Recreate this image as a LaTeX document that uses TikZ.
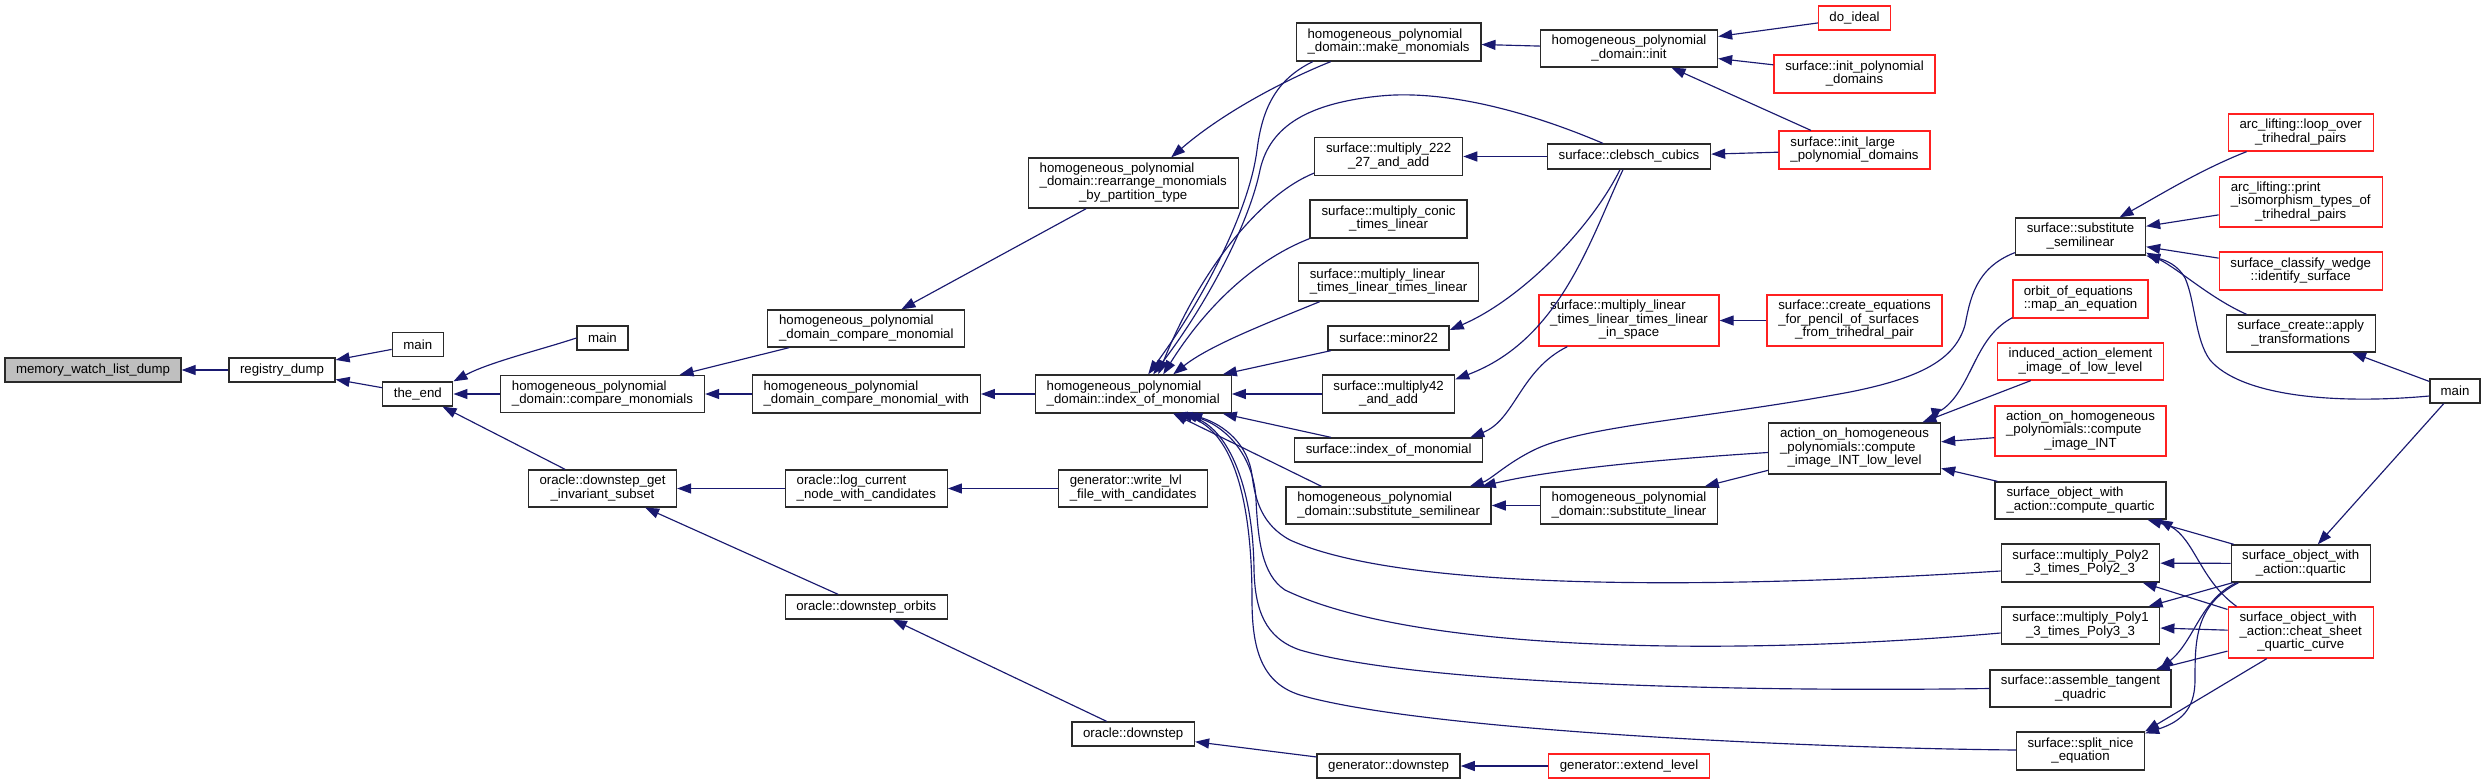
\documentclass[tikz,border=0pt]{standalone}
\usepackage{fontspec}
\setmainfont{Liberation Sans}
\usetikzlibrary{arrows.meta,calc}
\definecolor{edgec}{HTML}{191970}
\definecolor{nodeb}{HTML}{2A2A2A}
\definecolor{redb}{HTML}{FF2020}
\definecolor{grayfill}{HTML}{BFBFBF}
\newcommand{\ml}[2]{\begin{tabular}{@{}l@{}}#1\\\multicolumn{1}{@{}c@{}}{#2}\end{tabular}}
\begin{document}
\begin{tikzpicture}[x=1pt,y=-1pt,
  box/.style={draw=nodeb, line width=1.3pt, fill=white, inner sep=0pt, font=\fontsize{13.25pt}{13.3pt}\selectfont},
  rbox/.style={box, draw=redb},
  sz/.style 2 args={minimum width=#1, minimum height=#2},
  e/.style={draw=edgec, line width=1.15pt, -{Triangle[length=14pt,width=10pt]}}]
\useasboundingbox[fill=white] (0,0) rectangle (2486,784);
% rank 0-3
\node[box,sz={176pt}{24pt},fill=grayfill] (mwld) at (93,370) {memory\_watch\_list\_dump};
\node[box,sz={106pt}{24pt}] (regdump) at (282,370) {registry\_dump};
\node[box,sz={51pt}{24pt}] (mainA) at (417.8,344.5) {main};
\node[box,sz={70pt}{24pt}] (theend) at (417.8,394) {the\_end};
\node[box,sz={51pt}{24pt}] (mainB) at (602.5,338) {main};
\node[box,sz={204pt}{37pt}] (cmpmons) at (602.5,394) {\ml{homogeneous\_polynomial}{\_domain::compare\_monomials}};
\node[box,sz={148pt}{37pt}] (dgis) at (602.5,488.5) {\ml{oracle::downstep\_get}{\_invariant\_subset}};
% rank 4
\node[box,sz={197pt}{37pt}] (cmpmon) at (866.3,328.5) {\ml{homogeneous\_polynomial}{\_domain\_compare\_monomial}};
\node[box,sz={228pt}{38pt}] (cmpwith) at (866.3,394) {\ml{homogeneous\_polynomial}{\_domain\_compare\_monomial\_with}};
\node[box,sz={162pt}{37pt}] (logcur) at (866.3,488.5) {\ml{oracle::log\_current}{\_node\_with\_candidates}};
\node[box,sz={162pt}{24pt}] (dsorbits) at (866.3,607) {oracle::downstep\_orbits};
% rank 5
\node[box,sz={210pt}{50pt}] (rearr) at (1133.2,183) {\ml{homogeneous\_polynomial\\\_domain::rearrange\_monomials}{\_by\_partition\_type}};
\node[box,sz={196pt}{38pt}] (idxmon) at (1133.2,394) {\ml{homogeneous\_polynomial}{\_domain::index\_of\_monomial}};
\node[box,sz={149pt}{37pt}] (writelvl) at (1133.2,488.5) {\ml{generator::write\_lvl}{\_file\_with\_candidates}};
\node[box,sz={122.5pt}{24pt}] (odownstep) at (1133.2,734) {oracle::downstep};
% rank 6
\node[box,sz={184.5pt}{38pt}] (makemon) at (1388.6,42) {\ml{homogeneous\_polynomial}{\_domain::make\_monomials}};
\node[box,sz={148pt}{38pt}] (m222) at (1388.6,156.5) {\ml{surface::multiply\_222}{\_27\_and\_add}};
\node[box,sz={157pt}{38pt}] (conic) at (1388.6,219) {\ml{surface::multiply\_conic}{\_times\_linear}};
\node[box,sz={180.4pt}{38pt}] (lin3) at (1388.6,282) {\ml{surface::multiply\_linear}{\_times\_linear\_times\_linear}};
\node[box,sz={121pt}{24pt}] (minor22) at (1388.6,338) {surface::minor22};
\node[box,sz={132pt}{38pt}] (m42) at (1388.6,394) {\ml{surface::multiply42}{\_and\_add}};
\node[box,sz={188pt}{24pt}] (sidx) at (1388.6,450) {surface::index\_of\_monomial};
\node[box,sz={205pt}{37pt}] (subsemi) at (1388.6,505.5) {\ml{homogeneous\_polynomial}{\_domain::substitute\_semilinear}};
\node[box,sz={143pt}{24pt}] (gdownstep) at (1388.6,766) {generator::downstep};
% rank 7
\node[box,sz={177pt}{37pt}] (hpdinit) at (1629,48.5) {\ml{homogeneous\_polynomial}{\_domain::init}};
\node[box,sz={163pt}{25pt}] (clebsch) at (1629,156.5) {surface::clebsch\_cubics};
\node[rbox,sz={180pt}{51pt}] (inspace) at (1629,320.5) {\ml{surface::multiply\_linear\\\_times\_linear\_times\_linear}{\_in\_space}};
\node[box,sz={177pt}{37pt}] (sublinear) at (1629,505.5) {\ml{homogeneous\_polynomial}{\_domain::substitute\_linear}};
\node[rbox,sz={161pt}{24pt}] (extend) at (1629,766) {generator::extend\_level};
% rank 8
\node[rbox,sz={72pt}{24pt}] (doideal) at (1854.5,18) {do\_ideal};
\node[rbox,sz={161pt}{38pt}] (initpoly) at (1854.5,74) {\ml{surface::init\_polynomial}{\_domains}};
\node[rbox,sz={151pt}{38pt}] (initlarge) at (1854.5,150) {\ml{surface::init\_large}{\_polynomial\_domains}};
\node[rbox,sz={175pt}{51pt}] (create) at (1854.5,320.5) {\ml{surface::create\_equations\\\_for\_pencil\_of\_surfaces}{\_from\_trihedral\_pair}};
\node[box,sz={172pt}{51pt}] (lowlevel) at (1854.5,448.5) {\ml{action\_on\_homogeneous\\\_polynomials::compute}{\_image\_INT\_low\_level}};
% rank 9
\node[box,sz={130pt}{37pt}] (ssubsemi) at (2080.5,236.5) {\ml{surface::substitute}{\_semilinear}};
\node[rbox,sz={135pt}{38pt}] (orbit) at (2080.5,299) {\ml{orbit\_of\_equations}{::map\_an\_equation}};
\node[rbox,sz={166pt}{37pt}] (induced) at (2080.5,361.5) {\ml{induced\_action\_element}{\_image\_of\_low\_level}};
\node[rbox,sz={171pt}{50pt}] (computeINT) at (2080.5,431) {\ml{action\_on\_homogeneous\\\_polynomials::compute}{\_image\_INT}};
\node[box,sz={171pt}{37pt}] (cquartic) at (2080.5,500.5) {\ml{surface\_object\_with}{\_action::compute\_quartic}};
\node[box,sz={158.5pt}{38pt}] (poly2) at (2080.5,563) {\ml{surface::multiply\_Poly2}{\_3\_times\_Poly2\_3}};
\node[box,sz={158.5pt}{37pt}] (poly1) at (2080.5,625.5) {\ml{surface::multiply\_Poly1}{\_3\_times\_Poly3\_3}};
\node[box,sz={181pt}{37pt}] (assemble) at (2080.5,688.5) {\ml{surface::assemble\_tangent}{\_quadric}};
\node[box,sz={128pt}{38pt}] (split) at (2080.5,751) {\ml{surface::split\_nice}{\_equation}};
% rank 10
\node[rbox,sz={145pt}{37pt}] (loop) at (2300.7,132.5) {\ml{arc\_lifting::loop\_over}{\_trihedral\_pairs}};
\node[rbox,sz={163pt}{50pt}] (print) at (2300.7,202) {\ml{arc\_lifting::print\\\_isomorphism\_types\_of}{\_trihedral\_pairs}};
\node[rbox,sz={163pt}{38pt}] (classify) at (2300.7,271) {\ml{surface\_classify\_wedge}{::identify\_surface}};
\node[box,sz={149pt}{37pt}] (apply) at (2300.7,333.5) {\ml{surface\_create::apply}{\_transformations}};
\node[box,sz={139pt}{37pt}] (quartic) at (2300.7,563.5) {\ml{surface\_object\_with}{\_action::quartic}};
\node[rbox,sz={145pt}{51pt}] (cheat) at (2300.7,632.5) {\ml{surface\_object\_with\\\_action::cheat\_sheet}{\_quartic\_curve}};
% rank 11
\node[box,sz={50pt}{24pt}] (mainC) at (2455,391) {main};

% ---------------- edges ----------------
\draw[e] (regdump) -- (mwld);
\draw[e] (mainA) -- (regdump);
\draw[e] (theend) -- (regdump);
\draw[e] (mainB.west) .. controls (540,350) and (490,362) .. (theend.north east);
\draw[e] (cmpmons) -- (theend);
\draw[e] (dgis) -- (theend);
\draw[e] (cmpmon) -- (cmpmons);
\draw[e] (cmpwith) -- (cmpmons);
\draw[e] (rearr) -- (cmpmon);
\draw[e] ($(makemon.south west)+(35,0)$) .. controls (1280,82) and (1220,115) .. ($(rearr.north)+(38,0)$);
\draw[e] (idxmon) -- (cmpwith);
\draw[e] (logcur) -- (dgis);
\draw[e] (dsorbits) -- (dgis);
\draw[e] (writelvl) -- (logcur);
\draw[e] (odownstep) -- (dsorbits);
\draw[e] (gdownstep) -- (odownstep);
\draw[e] (extend) -- (gdownstep);
\draw[e] (hpdinit) -- (makemon);
\draw[e] (doideal) -- (hpdinit);
\draw[e] (initpoly) -- (hpdinit);
\draw[e] (initlarge) -- (hpdinit);
\draw[e] (initlarge) -- (clebsch);
\draw[e] (clebsch) -- (m222);
\draw[e] ($(clebsch.south)+(-9,0)$) .. controls (1590,230) and (1520,300) .. ($(minor22.east)+(0,-8)$);
\draw[e] ($(clebsch.south)+(-6,0)$) .. controls (1590,240) and (1560,340) .. ($(m42.north east)+(0,5)$);
% into index_of_monomial (top)
\draw[e] ($(makemon.south west)+(17,0)$) .. controls (1275,80) and (1262,110) .. (1257,150) .. controls (1250,205) and (1210,290) .. ($(idxmon.north)+(15,0)$);
\draw[e] ($(clebsch.north)+(-26,0)$) .. controls (1520,108) and (1440,90) .. (1380,96) .. controls (1310,103) and (1270,125) .. (1260,170) .. controls (1250,220) and (1210,300) .. ($(idxmon.north)+(20,0)$);
\draw[e] ($(m222.south west)+(0,-3)$) .. controls (1260,195) and (1200,270) .. ($(idxmon.north)+(25,0)$);
\draw[e] (conic.south west) .. controls (1260,258) and (1210,300) .. ($(idxmon.north)+(30,0)$);
\draw[e] ($(lin3.south west)+(22,0)$) .. controls (1270,322) and (1210,345) .. ($(idxmon.north)+(40,0)$);
\draw[e] (minor22) -- (idxmon);
\draw[e] (m42) -- (idxmon);
\draw[e] (sidx) -- (idxmon);
\draw[e] ($(subsemi.north west)+(36,0)$) -- (idxmon);
% into index_of_monomial (bottom, long curves)
\draw[e] ($(poly2.west)+(0,8)$) .. controls (1700,590) and (1400,590) .. (1290,540) .. controls (1262,525) and (1255,500) .. (1252,475) .. controls (1248,445) and (1225,425) .. ($(idxmon.south)+(55,0)$);
\draw[e] ($(poly1.west)+(0,7.5)$) .. controls (1750,655) and (1420,655) .. (1285,590) .. controls (1262,575) and (1258,540) .. (1256,500) .. controls (1254,455) and (1225,425) .. ($(idxmon.south)+(50,0)$);
\draw[e] (assemble.west) .. controls (1750,692) and (1420,685) .. (1300,650) .. controls (1265,638) and (1255,610) .. (1254,570) .. controls (1253,480) and (1225,425) .. ($(idxmon.south)+(45,0)$);
\draw[e] ($(split.west)+(0,-1)$) .. controls (1800,748) and (1420,730) .. (1300,695) .. controls (1262,683) and (1252,650) .. (1252,600) .. controls (1252,480) and (1225,425) .. ($(idxmon.south)+(40,0)$);
% middle
\draw[e] ($(inspace.south west)+(29,0)$) .. controls (1520,370) and (1515,420) .. ($(sidx.north east)+(-13,0)$);
\draw[e] (create) -- (inspace);
\draw[e] (sublinear) -- (subsemi);
\draw[e] ($(ssubsemi.south west)+(0,-3)$) .. controls (1975,268) and (1970,300) .. (1965,325) .. controls (1955,360) and (1920,378) .. (1850,392) .. controls (1700,420) and (1580,425) .. (1530,452) .. controls (1505,465) and (1490,480) .. ($(subsemi.north east)+(-22,0)$);
\draw[e] ($(lowlevel.west)+(0,4)$) .. controls (1650,460) and (1550,470) .. ($(subsemi.north east)+(-10,0)$);
\draw[e] (lowlevel) -- (sublinear);
\draw[e] ($(orbit.south west)+(0,-1)$) .. controls (1980,335) and (1975,370) .. (1955,397) .. controls (1945,410) and (1935,415) .. ($(lowlevel.north east)+(-7,0)$);
\draw[e] (induced) -- (lowlevel);
\draw[e] (computeINT) -- (lowlevel);
\draw[e] (cquartic) -- (lowlevel);
% right side
\draw[e] ($(loop.south west)+(19,0)$) .. controls (2200,170) and (2160,195) .. ($(ssubsemi.north)+(39,0)$);
\draw[e] (print) -- (ssubsemi);
\draw[e] (classify) -- (ssubsemi);
\draw[e] ($(apply.north west)+(21,0)$) .. controls (2210,298) and (2180,270) .. ($(ssubsemi.south east)+(0,-3)$);
\draw[e] ($(mainC.west)+(0,5)$) .. controls (2330,405) and (2240,395) .. (2210,360) .. controls (2195,340) and (2195,300) .. (2185,278) .. controls (2178,265) and (2165,260) .. (ssubsemi.south east);
\draw[e] (mainC) -- (apply);
\draw[e] (mainC) -- (quartic);
\draw[e] (quartic) -- (cquartic);
\draw[e] ($(cheat.north west)+(9,0)$) .. controls (2200,580) and (2195,540) .. ($(cquartic.south east)+(-8,0)$);
\draw[e] (quartic) -- (poly2);
\draw[e] (cheat) -- (poly2);
\draw[e] (quartic) -- (poly1);
\draw[e] (cheat) -- (poly1);
\draw[e] ($(quartic.south west)+(6,0)$) .. controls (2200,600) and (2195,640) .. ($(assemble.north east)+(-12,0)$);
\draw[e] (cheat) -- (assemble);
\draw[e] ($(quartic.south west)+(8,0)$) .. controls (2195,605) and (2195,640) .. (2195,680) .. controls (2195,710) and (2180,722) .. ($(split.north east)+(0,2)$);
\draw[e] ($(cheat.south)+(-34,0)$) -- (split.north east);
\end{tikzpicture}
\end{document}
